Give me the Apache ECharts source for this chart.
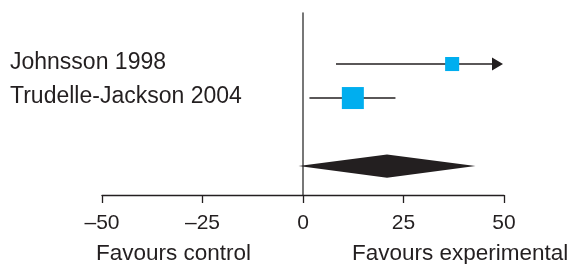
<!DOCTYPE html>
<html>
<head>
<meta charset="utf-8">
<script src="https://cdn.jsdelivr.net/npm/echarts@6/dist/echarts.min.js"></script>
<style>
html, body { margin: 0; padding: 0; background: #fff; }
#chart { width: 571px; height: 264px; }
</style>
</head>
<body>
<div id="chart"></div>
<script>
// study rows (top to bottom)
const studies = ['Johnsson 1998', 'Trudelle-Jackson 2004'];
const means = [37.1, 12.4];
const lowers = [8.2, 1.6];
const uppers = [66.0, 23.0];
const weights = [29, 71];
const rows = [1, 2];

// pooled estimate: lower, mean, upper
const pooled = [-1.1, 20.9, 42.9];
const pooledRow = 4;

const xTicks = [-50, -25, 0, 25, 50];
const sideLabels = ['Favours control', 'Favours experimental'];

const ink = '#231f20';
const font = '"Liberation Sans", Arial, sans-serif';

const chart = echarts.init(document.getElementById('chart'));

function renderStudy(params, api) {
    const i = params.dataIndex;
    const xMax = xTicks[xTicks.length - 1];
    const y = api.coord([0, rows[i]])[1];
    const lo = api.coord([lowers[i], rows[i]])[0];
    const mid = api.coord([means[i], rows[i]])[0];
    const clipped = uppers[i] > xMax;
    const hi = api.coord([clipped ? xMax : uppers[i], rows[i]])[0];
    const size = 22 * Math.sqrt(weights[i] / Math.max(...weights));
    const children = [];
    children.push({
        type: 'line',
        shape: { x1: lo, y1: y, x2: clipped ? hi - 11 : hi, y2: y },
        style: { stroke: ink, lineWidth: 1.4 }
    });
    if (clipped) {
        children.push({
            type: 'polygon',
            shape: { points: [[hi - 12, y - 6.5], [hi - 1, y], [hi - 12, y + 6.5]] },
            style: { fill: ink }
        });
    }
    children.push({
        type: 'rect',
        shape: { x: mid - size / 2, y: y - size / 2, width: size, height: size },
        style: { fill: '#00aeef' }
    });
    children.push({
        type: 'text',
        x: 10,
        y: y - 1,
        style: {
            text: studies[i], fontSize: 23, fontFamily: font, fill: ink,
            verticalAlign: 'middle', align: 'left'
        }
    });
    return { type: 'group', children: children };
}

function renderPooled(params, api) {
    const y = api.coord([0, pooledRow])[1];
    const l = api.coord([pooled[0], pooledRow])[0];
    const m = api.coord([pooled[1], pooledRow])[0];
    const u = api.coord([pooled[2], pooledRow])[0];
    return {
        type: 'polygon',
        shape: { points: [[l, y], [m, y - 11.7], [u, y], [m, y + 11.7]] },
        style: { fill: ink }
    };
}

chart.setOption({
    animation: false,
    grid: { left: 102, right: 67, top: 13, bottom: 69 },
    xAxis: {
        type: 'value',
        min: xTicks[0],
        max: xTicks[xTicks.length - 1],
        interval: 25,
        axisLine: { onZero: false, lineStyle: { color: ink, width: 1.3 } },
        axisTick: { length: 8, lineStyle: { color: ink, width: 1.3 } },
        axisLabel: {
            fontSize: 21, fontFamily: font, color: ink, margin: 18,
            formatter: v => String(v).replace('-', '\u2013')
        },
        splitLine: { show: false }
    },
    yAxis: {
        type: 'value',
        inverse: true,
        min: -0.5,
        max: 4.85,
        axisLine: { show: true, onZero: true, lineStyle: { color: '#555', width: 1.6 } },
        axisTick: { show: false },
        axisLabel: { show: false },
        splitLine: { show: false }
    },
    graphic: [
        {
            type: 'text', left: 96, top: 242,
            style: { text: sideLabels[0], fontSize: 22.5, fontFamily: font, fill: ink }
        },
        {
            type: 'text', left: 352, top: 242,
            style: { text: sideLabels[1], fontSize: 22.5, fontFamily: font, fill: ink }
        }
    ],
    series: [
        {
            type: 'custom',
            clip: false,
            renderItem: renderStudy,
            data: studies.map((s, i) => [means[i], rows[i]])
        },
        {
            type: 'custom',
            clip: false,
            renderItem: renderPooled,
            data: [[pooled[1], pooledRow]]
        }
    ]
});
</script>
</body>
</html>
